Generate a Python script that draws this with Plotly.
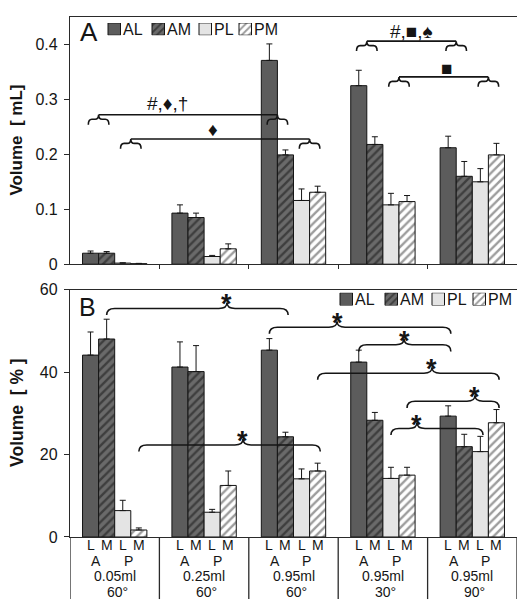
import plotly.graph_objects as go

# ---------------- data ----------------
SERIES = ["AL", "AM", "PL", "PM"]
GROUP_POS = [0, 1, 2, 3, 4]
GROUP_VOLUME = ["0.05ml", "0.25ml", "0.95ml", "0.95ml", "0.95ml"]
GROUP_ANGLE = ["60°", "60°", "60°", "30°", "90°"]
SUB_LETTERS = ["L", "M", "L", "M"]
PAIR_LETTERS = ["A", "P"]

# Panel A: volume in mL (mean, +SD)
ML_AL = [0.020, 0.093, 0.371, 0.325, 0.212]
ML_AM = [0.020, 0.085, 0.199, 0.218, 0.160]
ML_PL = [0.002, 0.014, 0.116, 0.108, 0.150]
ML_PM = [0.001, 0.028, 0.131, 0.114, 0.199]
ML_AL_ERR = [0.004, 0.015, 0.030, 0.028, 0.021]
ML_AM_ERR = [0.003, 0.008, 0.009, 0.014, 0.027]
ML_PL_ERR = [0.0005, 0.002, 0.021, 0.021, 0.024]
ML_PM_ERR = [0.0005, 0.009, 0.011, 0.011, 0.021]

# Panel B: volume in % (mean, +SD)
PCT_AL = [44.1, 41.2, 45.3, 42.4, 29.3]
PCT_AM = [48.0, 40.1, 24.3, 28.3, 21.9]
PCT_PL = [6.4, 6.0, 14.1, 14.2, 20.7]
PCT_PM = [1.7, 12.5, 16.0, 15.0, 27.7]
PCT_AL_ERR = [5.6, 6.1, 2.8, 2.9, 2.5]
PCT_AM_ERR = [4.8, 6.3, 1.1, 1.9, 3.0]
PCT_PL_ERR = [2.5, 0.7, 2.4, 2.7, 3.7]
PCT_PM_ERR = [0.5, 3.5, 1.9, 1.9, 3.2]

# Significance brackets, panel A: (group a, pair a, group b, pair b, line y, label, label x, label y)
A_BRACKETS = [
    (0, 0, 2, 0, 0.272, "#,♦,†", 0.59, 0.293),
    (0, 1, 2, 1, 0.228, "♦", 1.10, 0.246),
    (3, 0, 4, 0, 0.406, "#,■,♠", 3.325, 0.424),
    (3, 1, 4, 1, 0.341, "■", 3.706, 0.357),
]
# Significance braces, panel B: (group a, series a, group b, series b, brace tip x, arm y)
B_BRACES = [
    (0, 1, 2, 1, 1.256, 55.4),
    (2, 0, 4, 0, 2.487, 50.85),
    (3, 0, 4, 0, 3.236, 46.6),
    (2, 3, 4, 3, 3.549, 39.7),
    (3, 3, 4, 3, 4.030, 32.9),
    (3, 2, 4, 2, 3.381, 26.3),
    (0, 3, 2, 3, 1.435, 22.3),
]

ML = {"AL": ML_AL, "AM": ML_AM, "PL": ML_PL, "PM": ML_PM}
ML_ERR = {"AL": ML_AL_ERR, "AM": ML_AM_ERR, "PL": ML_PL_ERR, "PM": ML_PM_ERR}
PCT = {"AL": PCT_AL, "AM": PCT_AM, "PL": PCT_PL, "PM": PCT_PM}
PCT_ERR = {"AL": PCT_AL_ERR, "AM": PCT_AM_ERR, "PL": PCT_PL_ERR, "PM": PCT_PM_ERR}

# ---------------- style / geometry (page pixels) ----------------
FONT = "Liberation Sans, Arial, sans-serif"
INK = "#151515"
AXIS = "#2a2a2a"
PAGE_OFF = 8                      # default body margin of the html page
PLOT_LEFT, PLOT_RIGHT = 70, 517   # page px
PLOT_TOP, PLOT_BOTTOM = 9, 537    # page px
W, H = 525 - PAGE_OFF, 609 - PAGE_OFF
M_L = PLOT_LEFT - PAGE_OFF
M_T = PLOT_TOP - PAGE_OFF
M_R = W - (PLOT_RIGHT - PAGE_OFF)
M_B = H - (PLOT_BOTTOM - PAGE_OFF)
PLOT_H = PLOT_BOTTOM - PLOT_TOP
PLOT_W = PLOT_RIGHT - PLOT_LEFT
BARGAP = 0.28
BAR_W = (1 - BARGAP) / 4
OFFS = [(k - 1.5) * BAR_W for k in range(4)]
PAIR_OFF = [(OFFS[0] + OFFS[1]) / 2, (OFFS[2] + OFFS[3]) / 2]


def py2paper(py):
    return (PLOT_BOTTOM - py) / PLOT_H


def px2paper(px):
    return (px - PLOT_LEFT) / PLOT_W


STYLE = {
    "AL": dict(color="#5c5c5c"),
    "AM": dict(color="#5a5a5a", pattern=dict(shape="/", fgcolor="#111111", bgcolor="#6a6a6a", size=6, solidity=0.4)),
    "PL": dict(color="#e4e4e4"),
    "PM": dict(color="#ffffff", pattern=dict(shape="/", fgcolor="#3a3a3a", bgcolor="#ffffff", size=6, solidity=0.4)),
}


def marker_for(s, small=False):
    m = dict(STYLE[s])
    if "pattern" in m and small:
        p = dict(m["pattern"])
        p["size"] = 5
        m["pattern"] = p
    m["line"] = dict(color=INK, width=1)
    return m


fig = go.Figure()

for s in SERIES:
    fig.add_trace(go.Bar(
        x=GROUP_POS, y=ML[s], name=s, xaxis="x", yaxis="y",
        marker=marker_for(s), showlegend=False,
        error_y=dict(type="data", symmetric=False, array=ML_ERR[s],
                     arrayminus=[0] * len(ML_ERR[s]), color=INK, thickness=1, width=3),
    ))
for s in SERIES:
    fig.add_trace(go.Bar(
        x=GROUP_POS, y=PCT[s], name=s, xaxis="x2", yaxis="y2",
        marker=marker_for(s), showlegend=False,
        error_y=dict(type="data", symmetric=False, array=PCT_ERR[s],
                     arrayminus=[0] * len(PCT_ERR[s]), color=INK, thickness=1, width=3),
    ))

# ---------------- custom legends (swatch bars on hidden axes) ----------------
LEG_A_LEFT = [108, 152, 199, 239]
LEG_B_LEFT = [340, 385, 432, 473]
SW = 12.5
annotations = []
for lefts, xa, ya in ((LEG_A_LEFT, "x3", "y3"), (LEG_B_LEFT, "x4", "y4")):
    for s, left in zip(SERIES, lefts):
        fig.add_trace(go.Bar(x=[left], y=[1], width=[SW], offset=[0], base=[0],
                             xaxis=xa, yaxis=ya, marker=marker_for(s, small=True),
                             showlegend=False, hoverinfo="skip"))
        annotations.append(dict(x=left + SW + 1.5, y=0.5, xref=xa, yref=ya, text=s,
                                showarrow=False, xanchor="left", yanchor="middle", borderpad=0,
                                font=dict(family=FONT, size=16, color=INK)))

# ---------------- brackets panel A ----------------
shapes = []


def small_brace(xc, yt, hw, d, r):
    ya = yt - 0.45 * d
    ye = yt - d
    return (f"M{xc-hw},{ye} Q{xc-hw},{ya} {xc-hw+r},{ya} L{xc-r},{ya} Q{xc},{ya} {xc},{yt} "
            f"Q{xc},{ya} {xc+r},{ya} L{xc+hw-r},{ya} Q{xc+hw},{ya} {xc+hw},{ye}")


for ga, pa, gb, pb, yl, lab, lx, ly in A_BRACKETS:
    xa = GROUP_POS[ga] + PAIR_OFF[pa]
    xb = GROUP_POS[gb] + PAIR_OFF[pb]
    path = f"M{xa},{yl} L{xb},{yl} "
    path += small_brace(xa, yl, 0.115, 0.018, 0.04) + " " + small_brace(xb, yl, 0.115, 0.018, 0.04)
    shapes.append(dict(type="path", xref="x", yref="y", path=path,
                       line=dict(color=INK, width=1.6), layer="above"))
    annotations.append(dict(x=lx, y=ly, xref="x", yref="y", text=lab, showarrow=False,
                            xanchor="center", yanchor="middle", borderpad=0,
                            font=dict(family=FONT, size=19, color=INK)))

# ---------------- braces panel B ----------------
for ga, sa, gb, sb, xt, ya in B_BRACES:
    x1 = GROUP_POS[ga] + OFFS[sa]
    x2 = GROUP_POS[gb] + OFFS[sb] + 0.03
    e = 1.6   # end curl depth (y units)
    t = 1.45  # tip height
    r = 0.09
    path = (f"M{x1},{ya-e} Q{x1},{ya} {x1+r},{ya} L{xt-r},{ya} Q{xt},{ya} {xt},{ya+t} "
            f"Q{xt},{ya} {xt+r},{ya} L{x2-r},{ya} Q{x2},{ya} {x2},{ya-e}")
    shapes.append(dict(type="path", xref="x2", yref="y2", path=path,
                       line=dict(color=INK, width=1.6), layer="above"))
    annotations.append(dict(x=xt, y=ya + t, xref="x2", yref="y2", text="<b>*</b>",
                            showarrow=False, xanchor="center", yanchor="middle", yshift=-2, borderpad=0,
                            font=dict(family=FONT, size=27, color=INK)))

# ---------------- category labels under panel B ----------------
ROW_PY = [545.0, 561.0, 577.0, 593.0]
LAB_FONT = dict(family=FONT, size=14, color=INK)
for g in GROUP_POS:
    for k in range(4):
        annotations.append(dict(x=g + OFFS[k], y=py2paper(ROW_PY[0]), xref="x2", yref="paper",
                                text=SUB_LETTERS[k], showarrow=False, xanchor="center", yanchor="middle",
                                borderpad=0, font=LAB_FONT))
    for p in range(2):
        annotations.append(dict(x=g + PAIR_OFF[p] - 0.03, y=py2paper(ROW_PY[1]), xref="x2", yref="paper",
                                text=PAIR_LETTERS[p], showarrow=False, xanchor="center", yanchor="middle",
                                borderpad=0, font=LAB_FONT))
    annotations.append(dict(x=g, y=py2paper(ROW_PY[2]), xref="x2", yref="paper",
                            text=GROUP_VOLUME[g], showarrow=False, xanchor="center", yanchor="middle",
                            borderpad=0, font=LAB_FONT))
    annotations.append(dict(x=g + 0.03, y=py2paper(ROW_PY[3]), xref="x2", yref="paper",
                            text=GROUP_ANGLE[g], showarrow=False, xanchor="center", yanchor="middle",
                            borderpad=0, font=LAB_FONT))

for b in [-0.5, 0.5, 1.5, 2.5, 3.5, 4.5]:
    shapes.append(dict(type="line", xref="x2", yref="paper", x0=b, x1=b, y0=0, y1=py2paper(600),
                       line=dict(color=AXIS, width=1.3)))

# ---------------- panel letters & y titles ----------------
annotations.append(dict(x=px2paper(88.5), y=py2paper(24), xref="paper", yref="paper", text="A",
                        showarrow=False, xanchor="center", yanchor="middle", borderpad=0,
                        font=dict(family=FONT, size=26, color=INK)))
annotations.append(dict(x=px2paper(87.5), y=py2paper(303.5), xref="paper", yref="paper", text="B",
                        showarrow=False, xanchor="center", yanchor="middle", borderpad=0,
                        font=dict(family=FONT, size=25, color=INK)))
annotations.append(dict(x=px2paper(17), y=py2paper(134.5), xref="paper", yref="paper",
                        text="<b>Volume\u00a0\u00a0[ mL]</b>", textangle=-90, showarrow=False,
                        xanchor="center", yanchor="middle", font=dict(family=FONT, size=17, color=INK)))
annotations.append(dict(x=px2paper(17), y=py2paper(411), xref="paper", yref="paper",
                        text="<b>Volume\u00a0\u00a0[\u00a0%\u00a0]</b>", textangle=-90, showarrow=False,
                        xanchor="center", yanchor="middle", font=dict(family=FONT, size=17.5, color=INK)))

axis_common = dict(showline=True, linecolor=AXIS, linewidth=1.3, mirror=True,
                   showgrid=False, zeroline=False)

fig.update_layout(
    width=W, height=H,
    margin=dict(l=M_L, r=M_R, t=M_T, b=M_B, pad=0),
    paper_bgcolor="white", plot_bgcolor="rgba(0,0,0,0)",
    barmode="group", bargap=BARGAP, bargroupgap=0,
    showlegend=False,
    font=dict(family=FONT, color=INK),
    xaxis=dict(domain=[0, 1], anchor="y", range=[-0.5, 4.5], tickvals=[0.5, 1.5, 2.5, 3.5],
               ticks="outside", ticklen=4, tickcolor=AXIS, showticklabels=False, **axis_common),
    yaxis=dict(domain=[py2paper(260), 1], anchor="x", range=[0, 0.45], tick0=0, dtick=0.1,
               ticks="outside", ticklen=5, tickcolor=AXIS, tickfont=dict(size=16, family=FONT, color=INK),
               ticklabelstandoff=3, **axis_common),
    xaxis2=dict(domain=[0, 1], anchor="y2", range=[-0.5, 4.5], showticklabels=False, ticks="", **axis_common),
    yaxis2=dict(domain=[0, py2paper(285.7)], anchor="x2", range=[0, 60], tick0=0, dtick=20,
                ticks="outside", ticklen=5, tickcolor=AXIS, tickfont=dict(size=16, family=FONT, color=INK),
                ticklabelstandoff=3, **axis_common),
    xaxis3=dict(domain=[0, 1], anchor="y3", range=[PLOT_LEFT, PLOT_RIGHT], visible=False),
    yaxis3=dict(domain=[py2paper(27.5), py2paper(15)], anchor="x3", range=[0, 1], visible=False),
    xaxis4=dict(domain=[0, 1], anchor="y4", range=[PLOT_LEFT, PLOT_RIGHT], visible=False),
    yaxis4=dict(domain=[py2paper(302), py2paper(289)], anchor="x4", range=[0, 1], visible=False),
    shapes=shapes,
    annotations=annotations,
)

fig.write_html("out.html")
